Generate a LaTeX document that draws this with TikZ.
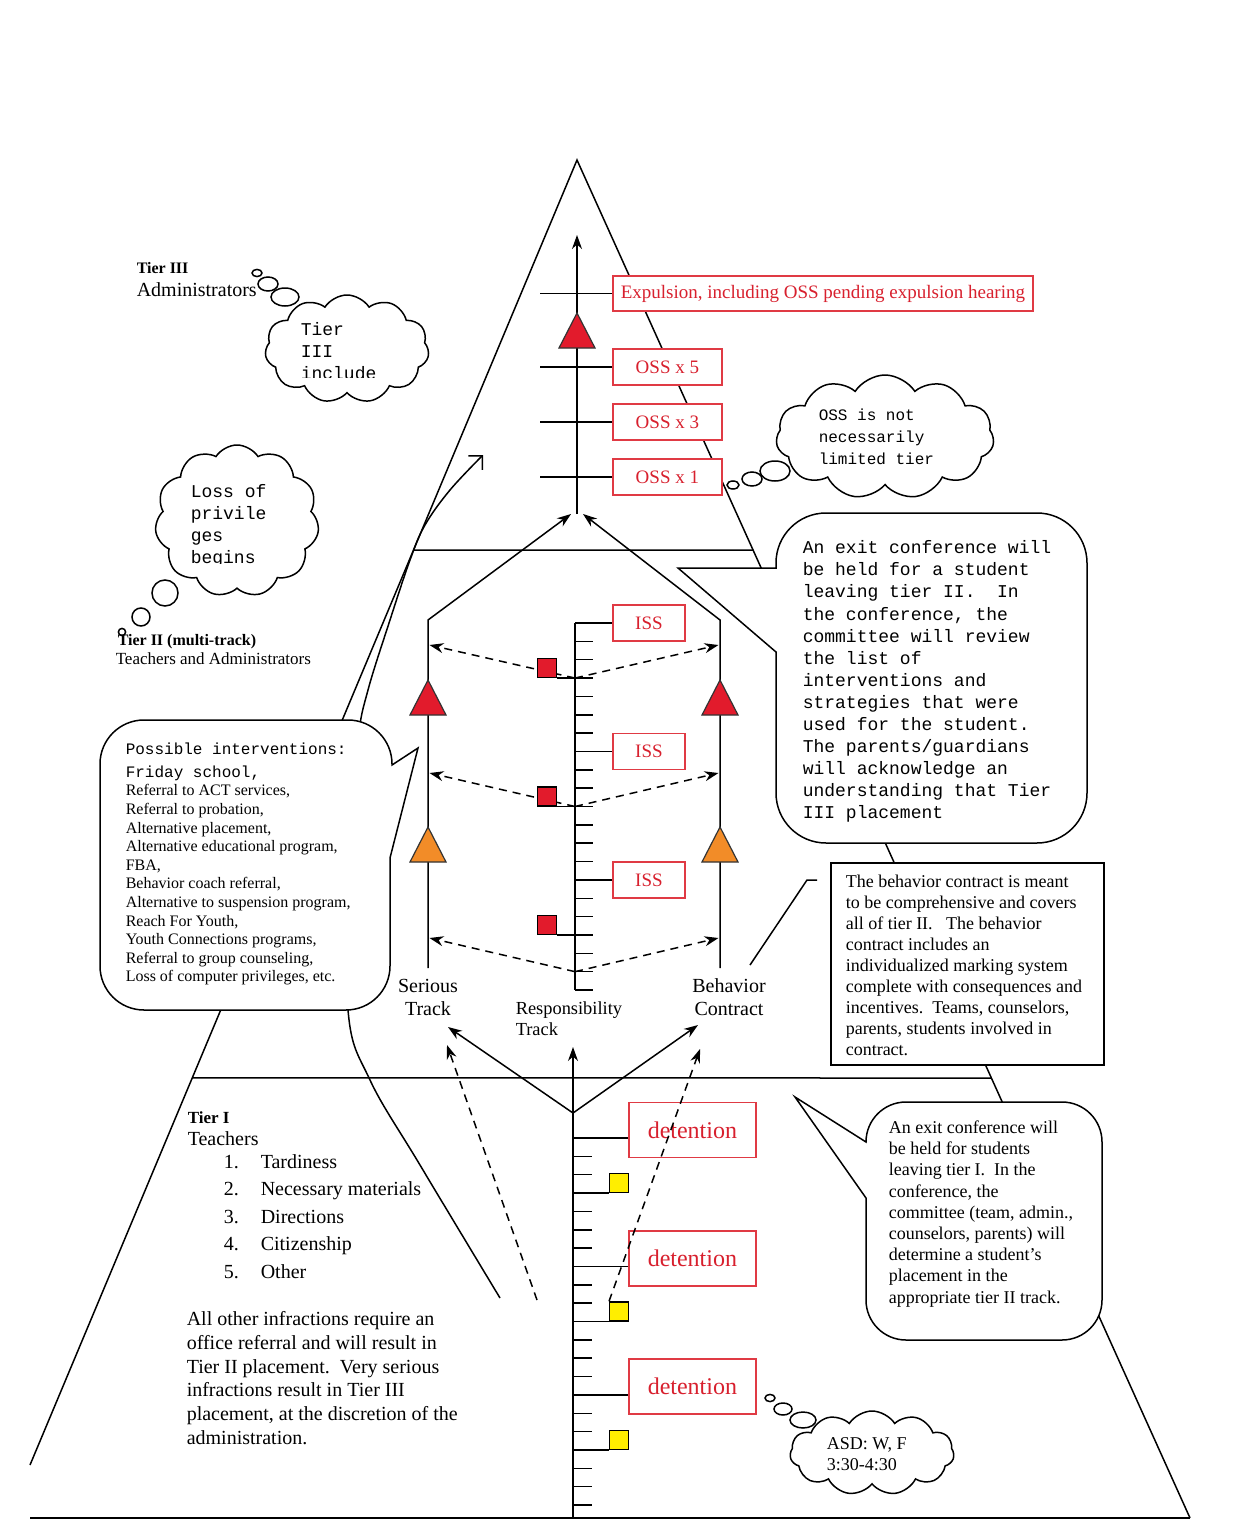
\documentclass[tikz,border=0pt]{standalone}
\usepackage{fontspec}
\setmainfont{Liberation Serif}
\setmonofont{Liberation Mono}
\usepackage{tikz}
\usetikzlibrary{arrows.meta,calc,shapes.symbols}

\definecolor{detRed}{HTML}{D8202E}
\definecolor{boxRed}{HTML}{E03A44}
\definecolor{markRed}{HTML}{E21B2C}
\definecolor{markOrange}{HTML}{F28C28}
\definecolor{markYellow}{HTML}{FFEE00}

\newcommand{\fsz}[2]{\fontsize{#1}{#2}\selectfont}
% triangle marker on a track: apex, fill colour
\newcommand{\trackmark}[2]{\filldraw[fill=#2, draw=black!80, line width=0.6pt] (#1) -- ++(18,35) -- ++(-36,0) -- cycle;}

\begin{document}
\begin{tikzpicture}[x=0.5pt, y=-0.5pt, line width=0.75pt,
    redbox/.style={rectangle, draw=boxRed, line width=0.9pt, fill=white, text=detRed, inner sep=0pt, font=\fsz{9.5}{11}},
    ossbox/.style={redbox, minimum width=54.5pt, minimum height=18pt, anchor=west},
    issbox/.style={redbox, minimum width=36pt, minimum height=18pt, anchor=west},
    detbox/.style={redbox, minimum width=63.5pt, minimum height=27.5pt, anchor=west, font=\fsz{12}{14}},
    redsq/.style={rectangle, draw=black, line width=0.6pt, fill=markRed, minimum size=9.5pt, inner sep=0pt},
    yelsq/.style={redsq, fill=markYellow},
    arr/.style={-{Stealth[length=7pt, width=5pt]}},
    dasharr/.style={arr, dash pattern=on 4pt off 3pt},
    barb/.style={-{Straight Barb[angle=90:7pt]}},
    callout/.style={draw, fill=white},
    cloudy/.style={cloud, cloud puffs=11, cloud puff arc=115, cloud ignores aspect, draw, fill=white, inner sep=0pt},
    bubble/.style={draw, fill=white},
    trklabel/.style={align=center, inner sep=0pt, font=\fsz{10}{11.5}},
    note/.style={align=left, inner sep=0pt, anchor=north west},
    tag/.style={inner sep=0pt, anchor=base west},
]
\useasboundingbox (0,0) rectangle (1249,1520);
\fill[white] (0,0) rectangle (1249,1520);

% Pyramid
\coordinate (apex) at (577,160);
\coordinate (footL) at (30,1465);
\coordinate (footR) at (1190,1518);
\coordinate (baseL) at (30,1518);
\coordinate (tierBL) at ($(apex)!0.2989!(footL)$);
\coordinate (tierBR) at ($(apex)!0.2872!(footR)$);
\coordinate (tierAL) at ($(apex)!0.7034!(footL)$);
\coordinate (tierAR) at ($(apex)!0.6760!(footR)$);
\draw (footL) -- (apex) -- (footR);
\draw (baseL) -- (footR);
\draw (tierBL) -- (tierBR);
\draw (tierAL) -- (tierAR);

% Very serious infractions: Tier I straight to Tier III
\draw[barb] plot[smooth, tension=0.6] coordinates {(500,1298) (420,1165) (370,1080) (348,1010) (350,850) (358,740) (368,690) (390,620) (410,560) (425,525) (450,490) (483,455)};

% Callouts
\draw[callout] (418,748) -- (390,858) [rounded corners=22pt] -- (390,1010) -- (100,1010) -- (100,720) -- (392,720) [sharp corners] -- (392,765) -- cycle;
\draw[callout] (678,568) -- (776,652) [rounded corners=25pt] -- (776,843) -- (1087,843) -- (1087,513) -- (776,513) [sharp corners] -- (776,568) -- cycle;
\draw[callout] (795,1097) -- (866,1198) [rounded corners=20pt] -- (866,1340) -- (1102,1340) -- (1102,1102) -- (866,1102) [sharp corners] -- (866,1142) -- cycle;
\node[draw, fill=white, minimum width=136.5pt, minimum height=101pt, anchor=north west, inner sep=0pt] (bcBox) at (830,862) {};
\coordinate (bcHook) at (817,880);
\coordinate (bcKnee) at (807,880);
\coordinate (bcTip) at (750,965);
\draw (bcHook) -- (bcKnee) -- (bcTip);

\node[note, font=\fsz{8}{9.3}] (ivTxt) at (125,742) {{\ttfamily Possible interventions:}\\[2.2pt]
  {\ttfamily Friday school,}\\Referral to ACT services,\\Referral to probation,\\Alternative placement,\\
  Alternative educational program,\\FBA,\\Behavior coach referral,\\Alternative to suspension program,\\
  Reach For Youth,\\Youth Connections programs,\\Referral to group counseling,\\Loss of computer privileges, etc.};
\node[note, font=\ttfamily\fsz{9}{11.04}] (exit2Txt) at (802,540) {An exit conference will\\be held for a student\\leaving tier II.\ \ In\\
  the conference, the\\committee will review\\the list of\\interventions and\\strategies that were\\
  used for the student.\\The parents/guardians\\will acknowledge an\\understanding that Tier\\III placement};
\node[note, font=\fsz{9}{10.5}] (bcTxt) at (845,874) {The behavior contract is meant\\to be comprehensive and covers\\
  all of tier II.\ \ \ The behavior\\contract includes an\\individualized marking system\\complete with consequences and\\
  incentives.\ \ Teams, counselors,\\parents, students involved in\\contract.};
\node[note, font=\fsz{9}{10.6}] (exit1Txt) at (888,1120) {An exit conference will\\be held for students\\leaving tier I.\ \ In the\\
  conference, the\\committee (team, admin.,\\counselors, parents) will\\determine a student’s\\placement in the\\appropriate tier II track.};

% Thought clouds
\node[cloudy, minimum width=82pt, minimum height=54pt] (thinkT3) at (347,349) {};
\draw[bubble] (257,273) ellipse [x radius=2.5pt, y radius=1.8pt];
\draw[bubble] (268,284) ellipse [x radius=5pt, y radius=3.5pt];
\draw[bubble] (285,297) ellipse [x radius=7pt, y radius=4.5pt];
\begin{scope}
  \clip (280,300) rectangle (425,377);
  \node[note, font=\ttfamily\fsz{9}{11}] (thinkT3Txt) at (300,322) {Tier\\III\\include};
\end{scope}

\node[cloudy, minimum width=82pt, minimum height=76pt] (thinkLoss) at (237,521) {};
\draw[bubble] (165,593) circle [radius=6.5pt];
\draw[bubble] (141,617) circle [radius=4.5pt];
\draw[bubble] (122,632) circle [radius=1.8pt];
\begin{scope}
  \clip (170,450) rectangle (315,563);
  \node[note, font=\ttfamily\fsz{9}{11}] (thinkLossTxt) at (190,484) {Loss of\\privile\\ges\\begins};
\end{scope}

\node[cloudy, minimum width=109pt, minimum height=62pt] (thinkOSS) at (885,437) {};
\draw[bubble] (733,485) ellipse [x radius=3pt, y radius=2pt];
\draw[bubble] (752,479) ellipse [x radius=5pt, y radius=3.5pt];
\draw[bubble] (775,471) ellipse [x radius=7.5pt, y radius=5pt];
\node[note, font=\ttfamily\fsz{8}{11}] (thinkOSSTxt) at (818,408) {OSS is not\\necessarily\\limited tier};

\node[cloudy, minimum width=82pt, minimum height=42pt] (thinkASD) at (872,1453) {};
\draw[bubble] (770,1398) ellipse [x radius=2.5pt, y radius=1.8pt];
\draw[bubble] (783,1409) ellipse [x radius=4.5pt, y radius=3pt];
\draw[bubble] (803,1420) ellipse [x radius=6.5pt, y radius=4pt];
\node[note, font=\fsz{9}{10.5}] (thinkASDTxt) at (826,1437) {ASD: W, F\\3:30-4:30};

% Tier labels
\node[tag, font=\bfseries\fsz{8}{9}] (tier3) at (136,273.5) {Tier III};
\node[tag, font=\fsz{10}{11}] (tier3who) at (136,296.5) {Administrators};
\node[tag, font=\bfseries\fsz{8}{9}] (tier2) at (117,645.5) {Tier II (multi-track)};
\node[tag, font=\fsz{8.5}{9}] (tier2who) at (115,664.5) {Teachers and Administrators};
\node[tag, font=\bfseries\fsz{8.5}{9}] (tier1) at (187,1123.5) {Tier I};
\node[tag, font=\fsz{10}{11}] (tier1who) at (187,1145.5) {Teachers};
\foreach \n/\t in {1/Tardiness, 2/Necessary materials, 3/Directions, 4/Citizenship, 5/Other} {
  \node[tag, font=\fsz{10}{11}] (num\n) at (223,{1168.5+27.4*(\n-1)}) {\n.};
  \node[tag, font=\fsz{10}{11}] (inf\n) at (260,{1168.5+27.4*(\n-1)}) {\t};
}
\node[note, font=\fsz{10}{11.85}] (referTxt) at (186,1311) {All other infractions require an\\office referral and will result in\\
  Tier II placement.\ \ Very serious\\infractions result in Tier III\\placement, at the discretion of the\\administration.};

% Tier III track
\coordinate (t3Bot) at (577,514);
\coordinate (t3Top) at (577,235);
\draw[arr] (t3Bot) -- (t3Top);
\node[redbox, minimum width=210pt, minimum height=17.5pt, anchor=west] (expul) at (612,293.5) {Expulsion, including OSS pending expulsion hearing};
\node[ossbox] (oss5) at (612,367) {OSS x 5};
\node[ossbox] (oss3) at (612,422) {OSS x 3};
\node[ossbox] (oss1) at (612,477) {OSS x 1};
\foreach \b in {expul,oss5,oss3,oss1} \draw (540,0 |- \b.west) -- (\b.west);
\trackmark{577,313}{markRed}

% Tier II: serious track and behavior contract
\coordinate (sBot) at (428,968);
\coordinate (sTop) at (428,620);
\coordinate (sEnd) at (571,514);
\coordinate (bBot) at (720,968);
\coordinate (bTop) at (720,620);
\coordinate (bEnd) at (583,514);
\draw[arr] (sBot) -- (sTop) -- (sEnd);
\draw[arr] (bBot) -- (bTop) -- (bEnd);
\trackmark{428,680}{markRed}
\trackmark{428,827}{markOrange}
\trackmark{720,680}{markRed}
\trackmark{720,827}{markOrange}

% Tier II: responsibility track
\coordinate (rTop) at (575,623);
\coordinate (rBot) at (575,990);
\draw (rTop) -- (rBot);
\foreach \i in {1,...,20} \draw (575,{623+18.35*\i}) -- ++(18,0);
\node[issbox] (iss1) at (612,623) {ISS};
\node[issbox] (iss2) at (612,751.45) {ISS};
\node[issbox] (iss3) at (612,879.9) {ISS};
\foreach \b in {iss1,iss2,iss3} \draw (575,0 |- \b.west) -- (\b.west);
\coordinate (rA) at (575,678.05);
\coordinate (rB) at (575,806.5);
\coordinate (rC) at (575,971.65);
\coordinate (sA) at (429.5,645);
\coordinate (sB) at (429.5,773);
\coordinate (sC) at (429.5,938);
\coordinate (bA) at (718.5,645);
\coordinate (bB) at (718.5,773);
\coordinate (bC) at (718.5,938);
\foreach \p in {A,B,C} {
  \draw[dasharr] (r\p) -- (s\p);
  \draw[dasharr] (r\p) -- (b\p);
}
\node[redsq, anchor=south east] (sq1) at (557,678.05) {};
\node[redsq, anchor=south east] (sq2) at (557,806.5) {};
\node[redsq, anchor=south east] (sq3) at (557,934.95) {};
\foreach \s in {sq1,sq2,sq3} \draw (\s.south east) -- (575,0 |- \s.south east);

\node[trklabel, anchor=north] (serious) at (428,978) {Serious\\Track};
\node[trklabel, anchor=north] (behav) at (729,978) {Behavior\\Contract};
\node[note, font=\fsz{9.2}{10.5}] (resp) at (515,1001) {Responsibility\\Track};

% Tier I track
\coordinate (junc) at (573,1113);
\coordinate (t1Bot) at (573,1518);
\coordinate (t1Top) at (573,1047);
\coordinate (toSer) at (448,1027);
\coordinate (toBeh) at (698,1025);
\draw[arr] (t1Bot) -- (t1Top);
\draw[arr] (junc) -- (toSer);
\draw[arr] (junc) -- (toBeh);
\foreach \i in {0,...,20} \draw (573,{1138+18.35*\i}) -- ++(19,0);
\node[detbox] (det1) at (628,1130) {detention};
\node[detbox] (det2) at (628,1258.5) {detention};
\node[detbox] (det3) at (628,1386.5) {detention};
\foreach \b/\y in {det1/1138, det2/1266.45, det3/1394.9} \draw (573,\y) -- (\b.west |- 0,\y);
\node[yelsq, anchor=south west] (ysq1) at (609,1193.05) {};
\node[yelsq, anchor=south west] (ysq2) at (609,1321.5) {};
\node[yelsq, anchor=south west] (ysq3) at (609,1449.95) {};
\foreach \s in {ysq1,ysq2,ysq3} \draw (573,0 |- \s.south west) -- (\s.south west);

% Moves from Tier I into Tier II tracks
\coordinate (dashLs) at (537,1300);
\coordinate (dashLe) at (447,1045);
\coordinate (dashRe) at (700,1049);
\draw[dasharr] (dashLs) -- (dashLe);
\draw[dasharr] (ysq2.north west) -- (dashRe);

\end{tikzpicture}
\end{document}
